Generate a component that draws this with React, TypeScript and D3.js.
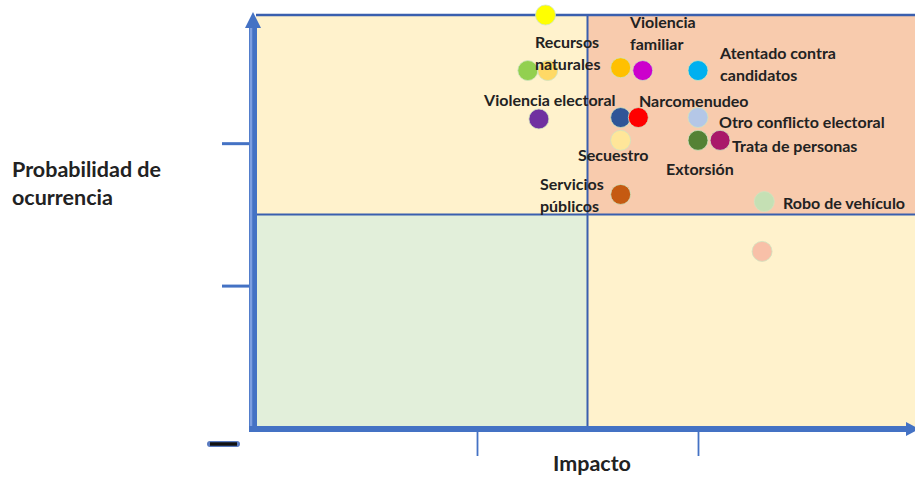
import { useRef, useEffect } from "react";
import * as d3 from "d3";

// point values: impact (x) and probability (y)
const impact = [1.31, 1.23, 1.32, 1.65, 1.75, 2.0, 1.28, 1.65, 1.73, 2.0, 1.65, 2.0, 2.1, 1.65, 2.3, 2.29];
const probability = [2.9, 2.51, 2.51, 2.53, 2.51, 2.51, 2.17, 2.18, 2.18, 2.18, 2.02, 2.02, 2.02, 1.64, 1.59, 1.24];
const pointColors = [
  "#FFFF00", "#92D050", "#FFD966", "#FFC000", "#CC00CC", "#00B0F0",
  "#7030A0", "#2F5597", "#FF0000", "#B4C7E7", "#FFE699", "#548235",
  "#A9186A", "#C55A11", "#C5E0B4", "#F8C0A8",
];

// annotations
const labelLines = [
  ["Recursos", "naturales"],
  ["Violencia", "familiar"],
  ["Atentado contra", "candidatos"],
  ["Violencia electoral"],
  ["Narcomenudeo"],
  ["Otro conflicto electoral"],
  ["Trata de personas"],
  ["Secuestro"],
  ["Extorsión"],
  ["Servicios", "públicos"],
  ["Robo de vehículo"],
];
const labelImpact = [1.262, 1.692, 2.1, 1.032, 1.733, 2.095, 2.154, 1.457, 1.855, 1.285, 2.385];
const labelProb = [2.711, 2.851, 2.633, 2.303, 2.296, 2.149, 1.98, 1.917, 1.819, 1.713, 1.58];

const xTicks = [1, 2];
const yTicks = [1, 2];
const split = 1.5;

function App() {
  const svgRef = useRef(null);

  useEffect(() => {
    const w = 915;
    const h = 478;
    const svg = d3.select(svgRef.current).attr("width", w).attr("height", h);
    svg.selectAll("*").remove();

    const x = d3.scaleLinear().domain([0, 3]).range([256, 919]);
    const y = d3.scaleLinear().domain([0, 2.9]).range([428, 15]);
    const font = "Lato, 'Open Sans', sans-serif";

    // quadrants
    const quads = [
      [0, split, split, 2.9, "#FFF2CC"],
      [split, 3, split, 2.9, "#F8CBAD"],
      [0, split, 0, split, "#E2EFDA"],
      [split, 3, 0, split, "#FFF2CC"],
    ];
    svg
      .selectAll(".quad")
      .data(quads)
      .enter()
      .append("rect")
      .attr("x", (d) => x(d[0]))
      .attr("y", (d) => y(d[3]))
      .attr("width", (d) => x(d[1]) - x(d[0]))
      .attr("height", (d) => y(d[2]) - y(d[3]))
      .attr("fill", (d) => d[4]);

    // quadrant borders
    const border = "#3A5FAE";
    svg.append("line").attr("x1", x(0)).attr("x2", w).attr("y1", y(2.9)).attr("y2", y(2.9))
      .attr("stroke", border).attr("stroke-width", 2.5);
    svg.append("line").attr("x1", x(0)).attr("x2", w).attr("y1", y(split)).attr("y2", y(split))
      .attr("stroke", border).attr("stroke-width", 2);
    svg.append("line").attr("x1", x(split)).attr("x2", x(split)).attr("y1", y(2.9)).attr("y2", y(0))
      .attr("stroke", border).attr("stroke-width", 2);

    // ticks
    const yAxis = d3.axisLeft(y).tickValues(yTicks).tickSize(31).tickFormat(() => "");
    const gy = svg.append("g").attr("transform", `translate(${x(0) - 3},0)`).call(yAxis);
    gy.select(".domain").remove();
    gy.selectAll("line").attr("stroke", "#4472C4").attr("stroke-width", 3);

    const xAxis = d3.axisBottom(x).tickValues(xTicks).tickSize(25).tickFormat(() => "");
    const gx = svg.append("g").attr("transform", `translate(0,${y(0) + 3})`).call(xAxis);
    gx.select(".domain").remove();
    gx.selectAll("line").attr("stroke", "#4472C4").attr("stroke-width", 1.8);

    // main axes with arrows
    const axisCol = "#4472C4";
    const ax = x(0) - 3;
    svg.append("line").attr("x1", ax).attr("x2", ax).attr("y1", y(0) + 4).attr("y2", 26)
      .attr("stroke", axisCol).attr("stroke-width", 8);
    svg.append("line").attr("x1", ax - 2).attr("x2", ax - 2).attr("y1", y(0)).attr("y2", 28)
      .attr("stroke", "#7C9EE0").attr("stroke-width", 2.5);
    svg.append("path").attr("d", `M${ax - 8},28 L${ax},12 L${ax + 8},28 Z`).attr("fill", axisCol);

    const ay = y(0) + 1;
    svg.append("line").attr("x1", ax - 4).attr("x2", 908).attr("y1", ay).attr("y2", ay)
      .attr("stroke", axisCol).attr("stroke-width", 6);
    svg.append("path").attr("d", `M906,${ay - 7} L919,${ay} L906,${ay + 7} Z`).attr("fill", axisCol);

    // stray dash below origin
    svg.append("line").attr("x1", 210).attr("x2", 237).attr("y1", 444).attr("y2", 444)
      .attr("stroke", "#5A7BC0").attr("stroke-width", 6).attr("stroke-linecap", "round");
    svg.append("line").attr("x1", 210).attr("x2", 237).attr("y1", 444).attr("y2", 444)
      .attr("stroke", "#111").attr("stroke-width", 3.5);

    // points
    svg
      .selectAll(".pt")
      .data(impact)
      .enter()
      .append("circle")
      .attr("cx", (d) => x(d))
      .attr("cy", (d, i) => y(probability[i]))
      .attr("r", 10)
      .attr("fill", (d, i) => pointColors[i])
      .attr("stroke", "#cfe3c0")
      .attr("stroke-width", 0.8);

    // labels
    const labels = svg
      .selectAll(".lbl")
      .data(labelLines)
      .enter()
      .append("text")
      .attr("x", (d, i) => x(labelImpact[i]))
      .attr("y", (d, i) => y(labelProb[i]))
      .attr("font-family", font)
      .attr("font-size", 16)
      .attr("font-weight", 700)
      .attr("fill", "#222");
    labels
      .selectAll("tspan")
      .data((d) => d)
      .enter()
      .append("tspan")
      .attr("x", function () {
        return d3.select(this.parentNode).attr("x");
      })
      .attr("dy", (d, j) => (j === 0 ? "0.35em" : "22px"))
      .text((d) => d);

    // axis titles
    svg.append("text").attr("x", 12).attr("y", 169).attr("dy", "0.35em")
      .attr("font-family", font).attr("font-size", 21.5).attr("font-weight", 700).attr("fill", "#222")
      .text("Probabilidad de");
    svg.append("text").attr("x", 12).attr("y", 197).attr("dy", "0.35em")
      .attr("font-family", font).attr("font-size", 21.5).attr("font-weight", 700).attr("fill", "#222")
      .text("ocurrencia");
    svg.append("text").attr("x", 592).attr("y", 471).attr("text-anchor", "middle")
      .attr("font-family", font).attr("font-size", 21.5).attr("font-weight", 700).attr("fill", "#222")
      .text("Impacto");
  }, []);

  return <svg ref={svgRef} style={{ position: "absolute", left: 0, top: 0 }}></svg>;
}

export default App;
